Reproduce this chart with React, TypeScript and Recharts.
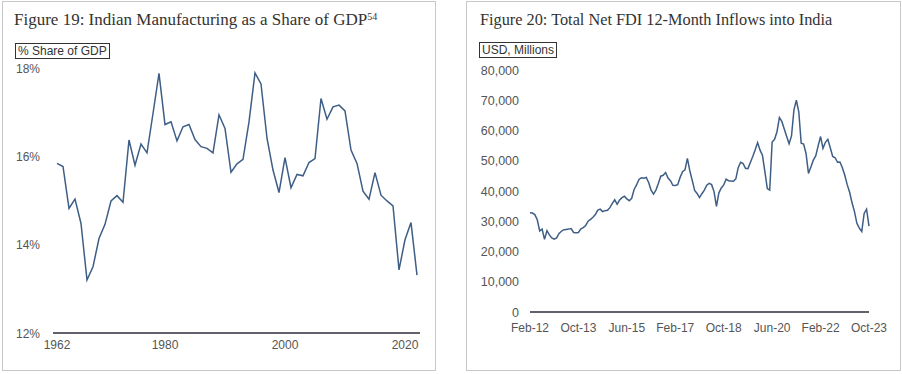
import React from 'react';
import { Line, LineChart, XAxis, YAxis } from 'recharts';

// Figure 19: manufacturing share of GDP, one value per year from 1962
const shareStartYear = 1962;
const shareValues = [
  15.84, 15.77, 14.82, 15.03, 14.48, 13.2, 13.5, 14.14, 14.46, 14.99,
  15.11, 14.96, 16.37, 15.8, 16.28, 16.08, 16.97, 17.88, 16.72, 16.78,
  16.35, 16.67, 16.72, 16.38, 16.22, 16.18, 16.08, 16.94, 16.63, 15.64,
  15.83, 15.93, 16.78, 17.89, 17.64, 16.41, 15.69, 15.18, 15.97, 15.29,
  15.59, 15.56, 15.86, 15.95, 17.31, 16.84, 17.12, 17.16, 17.03, 16.14,
  15.84, 15.21, 15.03, 15.63, 15.12, 14.99, 14.88, 13.43, 14.11, 14.5,
  13.31,
];
const shareYearTicks = [1962, 1980, 2000, 2020];
const shareTicks = [12, 14, 16, 18];

// Figure 20: 12-month net FDI, monthly from Feb-12 to Oct-23
const fdiValues = [
  32800, 32700, 32200, 30500, 26800, 27400, 24000, 26900, 25500, 24500,
  24100, 24500, 26000, 26700, 27200, 27300, 27400, 27600, 26300, 26200,
  26300, 27500, 27900, 28600, 30000, 30600, 31300, 32200, 33700, 34000,
  33200, 33500, 33600, 34500, 35900, 37100, 35600, 37000, 37800, 38300,
  37400, 36800, 37600, 40500, 42000, 43800, 44400, 44200, 44500, 42800,
  40300, 39000, 40300, 42500, 44900, 45200, 46100, 44300, 43400, 41900,
  41800, 42100, 44500, 46400, 47000, 50800, 46700, 43500, 40200, 39200,
  37800, 39100, 40300, 41900, 42500, 42100, 39800, 34900, 39400, 41000,
  42000, 43900, 43400, 43300, 43200, 44000, 47800, 49500, 49100, 47500,
  47400, 49400, 51400, 53600, 56000, 53500, 51800, 46400, 40800, 40300,
  56200, 57100, 59600, 64300, 63000, 60500, 58000, 55600, 58200, 66800,
  70000, 66200, 55800, 55500, 52400, 45800, 47900, 50200, 51600, 54900,
  58000, 54100, 56100, 57100, 54300, 51400, 51000, 49500, 49600, 47700,
  45200, 42100, 39600, 36100, 33200, 29300, 27700, 26600, 32600, 34000,
  28400,
];
const fdiTickIndex = [0, 20, 40, 60, 80, 100, 120, 140];
const fdiTickLabels = ['Feb-12', 'Oct-13', 'Jun-15', 'Feb-17', 'Oct-18', 'Jun-20', 'Feb-22', 'Oct-23'];
const fdiTicks = [0, 10000, 20000, 30000, 40000, 50000, 60000, 70000, 80000];

const shareData = shareValues.map((v, k) => ({ year: shareStartYear + k, share: v }));
const fdiData = fdiValues.map((v, k) => ({ idx: k, fdi: v }));

const SANS = '"Liberation Sans", Arial, sans-serif';
const SERIF = '"Liberation Serif", "Times New Roman", serif';
const LINE = '#3e5e86';
const AXIS = '#2b2d3a';
const LABEL = '#555';

const titleStyle: React.CSSProperties = {
  position: 'absolute',
  fontFamily: SERIF,
  color: '#333',
  whiteSpace: 'nowrap',
  lineHeight: '18px',
};

const unitStyle: React.CSSProperties = {
  position: 'absolute',
  fontFamily: SANS,
  fontSize: 12,
  color: '#333',
  border: '1px solid #333',
  padding: '0 2px',
  lineHeight: '14px',
  whiteSpace: 'nowrap',
};

const panelStyle: React.CSSProperties = {
  position: 'absolute',
  top: 1,
  height: 370,
  border: '1px solid #c8c8c8',
  boxSizing: 'border-box',
};

function ShareYTick({ y, payload }: any) {
  return (
    <text x={16} y={y + 4.5} textAnchor="start" fontSize={12} fontFamily={SANS} fill={LABEL}>
      {payload.value}%
    </text>
  );
}

function YearTick({ x, y, payload }: any) {
  return (
    <text x={x} y={y + 16} textAnchor="middle" fontSize={12} fontFamily={SANS} fill={LABEL}>
      {payload.value}
    </text>
  );
}

function FdiYTick({ y, payload }: any) {
  return (
    <text x={67} y={y + 4.5} textAnchor="end" fontSize={12.5} fontFamily={SANS} fill={LABEL}>
      {Number(payload.value).toLocaleString('en-US')}
    </text>
  );
}

function MonthTick({ x, y, payload }: any) {
  const label = fdiTickLabels[fdiTickIndex.indexOf(payload.value)];
  return (
    <text x={x} y={y + 20} textAnchor="middle" fontSize={12} fontFamily={SANS} fill={LABEL}>
      {label}
    </text>
  );
}

export default function App() {
  return (
    <div style={{ position: 'absolute', left: 0, top: 0, width: 902, height: 374, background: '#fff' }}>
      <div style={{ ...panelStyle, left: 2, width: 434 }} />
      <div style={{ ...panelStyle, left: 466, width: 435 }} />

      <div style={{ ...titleStyle, left: 14, top: 11, fontSize: 17 }}>
        Figure 19: Indian Manufacturing as a Share of GDP
        <sup style={{ fontSize: 10, verticalAlign: 'top', position: 'relative', top: -3 }}>54</sup>
      </div>
      <div style={{ ...unitStyle, left: 15, top: 43 }}>% Share of GDP</div>

      <div style={{ ...titleStyle, left: 480, top: 11, fontSize: 16.3 }}>
        Figure 20: Total Net FDI 12-Month Inflows into India
      </div>
      <div style={{ ...unitStyle, left: 479, top: 42 }}>USD, Millions</div>

      <LineChart
        width={436}
        height={374}
        data={shareData}
        margin={{ top: 68, right: 16, bottom: 11, left: 0 }}
        style={{ position: 'absolute', left: 0, top: 0 }}
      >
        <XAxis
          dataKey="year"
          type="number"
          domain={[1962, 2022]}
          ticks={shareYearTicks}
          padding={{ left: 4, right: 3 }}
          height={30}
          tickLine={false}
          tickSize={0}
          tickMargin={0}
          axisLine={{ stroke: AXIS, strokeWidth: 1.5 }}
          tick={<YearTick />}
          interval={0}
        />
        <YAxis
          domain={[12, 18]}
          ticks={shareTicks}
          width={53}
          axisLine={false}
          tickLine={false}
          tick={<ShareYTick />}
          interval={0}
        />
        <Line
          type="linear"
          dataKey="share"
          stroke={LINE}
          strokeWidth={1.5}
          dot={false}
          isAnimationActive={false}
        />
      </LineChart>

      <LineChart
        width={450}
        height={374}
        data={fdiData}
        margin={{ top: 70, right: 33, bottom: 32, left: 0 }}
        style={{ position: 'absolute', left: 452, top: 0 }}
      >
        <XAxis
          dataKey="idx"
          type="number"
          domain={[0, 140]}
          ticks={fdiTickIndex}
          height={30}
          tickLine={false}
          tickSize={0}
          tickMargin={0}
          axisLine={{ stroke: AXIS, strokeWidth: 1.5 }}
          tick={<MonthTick />}
          interval={0}
        />
        <YAxis
          domain={[0, 80000]}
          ticks={fdiTicks}
          width={78}
          axisLine={false}
          tickLine={false}
          tick={<FdiYTick />}
          interval={0}
        />
        <Line
          type="linear"
          dataKey="fdi"
          stroke={LINE}
          strokeWidth={1.5}
          dot={false}
          isAnimationActive={false}
        />
      </LineChart>
    </div>
  );
}
